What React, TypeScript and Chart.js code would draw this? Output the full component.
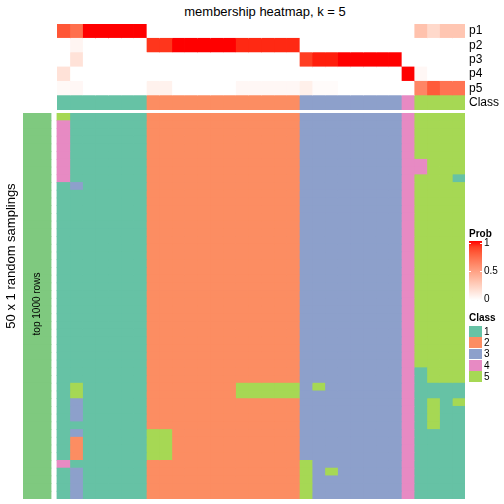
import React, { useEffect, useRef } from "react";
import { Chart, registerables } from "chart.js";
Chart.register(...registerables);

// ---------- data ----------
const chartTitle = "membership heatmap, k = 5";
const rowLabels = ["p1", "p2", "p3", "p4", "p5", "Class"];
const nCols = 32;

// membership probabilities per column (32 columns)
const p1 = [0.82, 0.72, 1, 1, 1, 1, 1, 0, 0, 0, 0, 0, 0, 0, 0, 0, 0, 0, 0, 0, 0, 0, 0, 0, 0, 0, 0, 0, 0.32, 0.2, 0.3, 0.3];
const p2 = [0, 0.05, 0, 0, 0, 0, 0, 0.92, 0.92, 1, 1, 1, 1, 1, 0.95, 0.95, 0.95, 0.95, 0.95, 0, 0, 0, 0, 0, 0, 0, 0, 0, 0, 0, 0, 0];
const p3 = [0, 0.15, 0, 0, 0, 0, 0, 0, 0, 0, 0, 0, 0, 0, 0, 0, 0, 0, 0, 0.9, 0.97, 0.97, 1, 1, 1, 1, 1, 0, 0, 0, 0, 0];
const p4 = [0.15, 0, 0, 0, 0, 0, 0, 0, 0, 0, 0, 0, 0, 0, 0, 0, 0, 0, 0, 0, 0, 0, 0, 0, 0, 0, 0, 1, 0.04, 0, 0, 0];
const p5 = [0.03, 0.04, 0, 0, 0, 0, 0, 0.07, 0.07, 0, 0, 0, 0, 0, 0.04, 0.04, 0.04, 0.04, 0.04, 0.08, 0.02, 0.02, 0, 0, 0, 0, 0, 0, 0.62, 0.8, 0.7, 0.7];
const classRow = "1111111|222222222222|33333333|4|5555";

// 50 random samplings x 32 columns (class per cell)
const samplingRows = [
  "5111111|222222222222|33333333|4|5555",
  "4111111|222222222222|33333333|4|5555",
  "4111111|222222222222|33333333|4|5555",
  "4111111|222222222222|33333333|4|5555",
  "4111111|222222222222|33333333|4|5555",
  "4111111|222222222222|33333333|4|5555",
  "4111111|222222222222|33333333|4|4555",
  "4111111|222222222222|33333333|4|4555",
  "4111111|222222222222|33333333|4|5551",
  "1311111|222222222222|33333333|4|5555",
  "1111111|222222222222|33333333|4|5555",
  "1111111|222222222222|33333333|4|5555",
  "1111111|222222222222|33333333|4|5555",
  "1111111|222222222222|33333333|4|5555",
  "1111111|222222222222|33333333|4|5555",
  "1111111|222222222222|33333333|4|5555",
  "1111111|222222222222|33333333|4|5555",
  "1111111|222222222222|33333333|4|5555",
  "1111111|222222222222|33333333|4|5555",
  "1111111|222222222222|33333333|4|5555",
  "1111111|222222222222|33333333|4|5555",
  "1111111|222222222222|33333333|4|5555",
  "1111111|222222222222|33333333|4|5555",
  "1111111|222222222222|33333333|4|5555",
  "1111111|222222222222|33333333|4|5555",
  "1111111|222222222222|33333333|4|5555",
  "1111111|222222222222|33333333|4|5555",
  "1111111|222222222222|33333333|4|5555",
  "1111111|222222222222|33333333|4|5555",
  "1111111|222222222222|33333333|4|5555",
  "1111111|222222222222|33333333|4|5555",
  "1111111|222222222222|33333333|4|5555",
  "1111111|222222222222|33333333|4|5555",
  "1111111|222222222222|33333333|4|1555",
  "1111111|222222222222|33333333|4|1555",
  "1511111|222222255555|35333333|4|1111",
  "1511111|222222255555|33333333|4|1111",
  "1311111|222222222222|33333333|4|1515",
  "1311111|222222222222|33333333|4|1511",
  "1311111|222222222222|33333333|4|1511",
  "1111111|222222222222|33333333|4|1511",
  "1311111|552222222222|33333333|4|1111",
  "1211111|552222222222|33333333|4|1111",
  "1211111|552222222222|33333333|4|1111",
  "1211111|552222222222|33333333|4|1111",
  "4111111|222222222222|53333333|4|1111",
  "1311111|222222222222|53533333|4|1111",
  "1311111|222222222222|53333333|4|1111",
  "1311111|222222222222|53333333|4|1111",
  "1311111|222222222222|53333333|4|1111",
];

const classLabels = ["1", "2", "3", "4", "5"];
const classColors = ["#66C2A5", "#FC8D62", "#8DA0CB", "#E78AC3", "#A6D854"];
const rowAnnoLabel = "top 1000 rows";
const rowAnnoColor = "#7FC97F";
const yTitle = "50 x 1 random samplings";
const probTicks = [1, 0.5, 0];

// ---------- colour helpers (LAB interpolation white -> red) ----------
function toLin(c: number) {
  c /= 255;
  return c <= 0.04045 ? c / 12.92 : Math.pow((c + 0.055) / 1.055, 2.4);
}
function fromLin(c: number) {
  const v = c <= 0.0031308 ? 12.92 * c : 1.055 * Math.pow(Math.max(c, 0), 1 / 2.4) - 0.055;
  return Math.round(Math.max(0, Math.min(1, v)) * 255);
}
function rgb2lab(r: number, g: number, b: number) {
  const R = toLin(r), G = toLin(g), B = toLin(b);
  const X = (0.4124 * R + 0.3576 * G + 0.1805 * B) / 0.95047;
  const Y = 0.2126 * R + 0.7152 * G + 0.0722 * B;
  const Z = (0.0193 * R + 0.1192 * G + 0.9505 * B) / 1.08883;
  const f = (t: number) => (t > 0.008856 ? Math.cbrt(t) : 7.787 * t + 16 / 116);
  const fx = f(X), fy = f(Y), fz = f(Z);
  return [116 * fy - 16, 500 * (fx - fy), 200 * (fy - fz)];
}
function lab2rgb(L: number, a: number, b: number) {
  const fy = (L + 16) / 116, fx = fy + a / 500, fz = fy - b / 200;
  const inv = (t: number) => (t * t * t > 0.008856 ? t * t * t : (t - 16 / 116) / 7.787);
  const X = inv(fx) * 0.95047, Y = inv(fy), Z = inv(fz) * 1.08883;
  const R = 3.2406 * X - 1.5372 * Y - 0.4986 * Z;
  const G = -0.9689 * X + 1.8758 * Y + 0.0415 * Z;
  const B = 0.0557 * X - 0.204 * Y + 1.057 * Z;
  return `rgb(${fromLin(R)},${fromLin(G)},${fromLin(B)})`;
}
const labWhite = rgb2lab(255, 255, 255);
const labRed = rgb2lab(255, 0, 0);
function probColor(v: number) {
  return lab2rgb(
    labWhite[0] + (labRed[0] - labWhite[0]) * v,
    labWhite[1] + (labRed[1] - labWhite[1]) * v,
    labWhite[2] + (labRed[2] - labWhite[2]) * v
  );
}
const classColor = (ch: string) => classColors[classLabels.indexOf(ch)];

const FONT = '"Liberation Sans", Arial, Helvetica, sans-serif';

export default function App() {
  const topRef = useRef<HTMLCanvasElement | null>(null);
  const mainRef = useRef<HTMLCanvasElement | null>(null);

  useEffect(() => {
    const probs = [p1, p2, p3, p4, p5];
    const classes = classRow.replace(/\|/g, "");
    const topSets = Array.from({ length: nCols }, (_, c) => ({
      data: rowLabels.map(() => [c, c + 1]),
      backgroundColor: [...probs.map((p) => probColor(p[c])), classColor(classes[c])],
      borderWidth: 0,
      barPercentage: 1,
      categoryPercentage: 1,
      grouped: false,
      inflateAmount: 0.4,
    }));
    const topChart = new Chart(topRef.current as HTMLCanvasElement, {
      type: "bar",
      data: { labels: rowLabels, datasets: topSets as any },
      options: {
        indexAxis: "y",
        responsive: false,
        animation: false,
        layout: { padding: { left: 57, top: 24, bottom: 30, right: 0 } },
        plugins: { legend: { display: false }, tooltip: { enabled: false } },
        scales: {
          x: { type: "linear", min: 0, max: nCols, display: false },
          y: {
            type: "category",
            position: "right",
            grid: { display: false, drawTicks: false },
            border: { display: false },
            ticks: {
              color: "#000",
              font: { family: FONT, size: 12 },
              padding: 4,
              autoSkip: false,
            },
            afterFit: (s: any) => {
              s.width = 39;
            },
          },
        },
      } as any,
    });

    const cells = samplingRows.map((r) => r.replace(/\|/g, ""));
    const rowIds = cells.map((_, i) => String(i + 1));
    const annoStart = -34 / 12.75;
    const annoEnd = -6 / 12.75;
    const mainSets: any[] = [
      {
        data: rowIds.map(() => [annoStart, annoEnd]),
        backgroundColor: rowAnnoColor,
        borderWidth: 0,
        barPercentage: 1,
        categoryPercentage: 1,
        grouped: false,
        inflateAmount: 0.4,
      },
      ...Array.from({ length: nCols }, (_, c) => ({
        data: rowIds.map(() => [c, c + 1]),
        backgroundColor: cells.map((r) => classColor(r[c])),
        borderWidth: 0,
        barPercentage: 1,
        categoryPercentage: 1,
        grouped: false,
        inflateAmount: 0.4,
      })),
    ];
    const mainChart = new Chart(mainRef.current as HTMLCanvasElement, {
      type: "bar",
      data: { labels: rowIds, datasets: mainSets },
      options: {
        indexAxis: "y",
        responsive: false,
        animation: false,
        layout: { padding: { left: 23, right: 39, top: 0, bottom: 0 } },
        plugins: { legend: { display: false }, tooltip: { enabled: false } },
        scales: {
          x: { type: "linear", min: annoStart, max: nCols, display: false },
          y: { type: "category", display: false },
        },
      } as any,
    });

    return () => {
      topChart.destroy();
      mainChart.destroy();
    };
  }, []);

  const gradStops = Array.from({ length: 11 }, (_, i) => `${probColor(i / 10)} ${i * 10}%`).join(", ");
  const probY = (v: number) => 299 - 56 * v;
  const boxTop = 326;
  const boxH = 11.3;

  const abs: React.CSSProperties = { position: "absolute", whiteSpace: "nowrap" };

  return (
    <div
      style={{
        position: "absolute",
        left: 0,
        top: 0,
        width: 504,
        height: 504,
        background: "#fff",
        fontFamily: FONT,
        color: "#000",
        overflow: "hidden",
      }}
    >
      <div style={{ ...abs, left: 115, width: 300, top: 4, fontSize: 13, lineHeight: "16px", textAlign: "center" }}>
        {chartTitle}
      </div>
      <canvas ref={topRef} width={504} height={140} style={{ position: "absolute", left: 0, top: 0, width: 504, height: 140 }} />
      <canvas ref={mainRef} width={504} height={386} style={{ position: "absolute", left: 0, top: 113, width: 504, height: 386 }} />
      <div
        style={{
          ...abs,
          left: 10,
          top: 256,
          fontSize: 13,
          lineHeight: "15px",
          transform: "translate(-50%, -50%) rotate(-90deg)",
        }}
      >
        {yTitle}
      </div>
      <div
        style={{
          ...abs,
          left: 37,
          top: 304,
          fontSize: 10,
          lineHeight: "12px",
          transform: "translate(-50%, -50%) rotate(-90deg)",
        }}
      >
        {rowAnnoLabel}
      </div>

      {/* Prob legend */}
      <div style={{ ...abs, left: 469, top: 227, fontSize: 10, lineHeight: "13px", fontWeight: "bold" }}>Prob</div>
      <div
        style={{
          position: "absolute",
          left: 469,
          top: 241,
          width: 13,
          height: 59,
          background: `linear-gradient(to top, ${gradStops})`,
        }}
      />
      {probTicks.map((t) => (
        <React.Fragment key={"t" + t}>
          <div style={{ position: "absolute", left: 469, top: probY(t) - 0.5, width: 2, height: 1, background: "#fff" }} />
          <div style={{ position: "absolute", left: 480, top: probY(t) - 0.5, width: 2, height: 1, background: "#fff" }} />
          <div style={{ ...abs, left: 484, top: probY(t) - 6, fontSize: 10, lineHeight: "12px" }}>{String(t)}</div>
        </React.Fragment>
      ))}

      {/* Class legend */}
      <div style={{ ...abs, left: 469, top: 310.5, fontSize: 10, lineHeight: "13px", fontWeight: "bold" }}>Class</div>
      {classLabels.map((lab, i) => (
        <React.Fragment key={"c" + lab}>
          <div
            style={{
              position: "absolute",
              left: 469,
              top: boxTop + i * boxH,
              width: 13,
              height: boxH - 0.6,
              background: classColors[i],
            }}
          />
          <div style={{ ...abs, left: 484, top: boxTop + i * boxH + boxH / 2 - 6, fontSize: 10, lineHeight: "12px" }}>
            {lab}
          </div>
        </React.Fragment>
      ))}
    </div>
  );
}
